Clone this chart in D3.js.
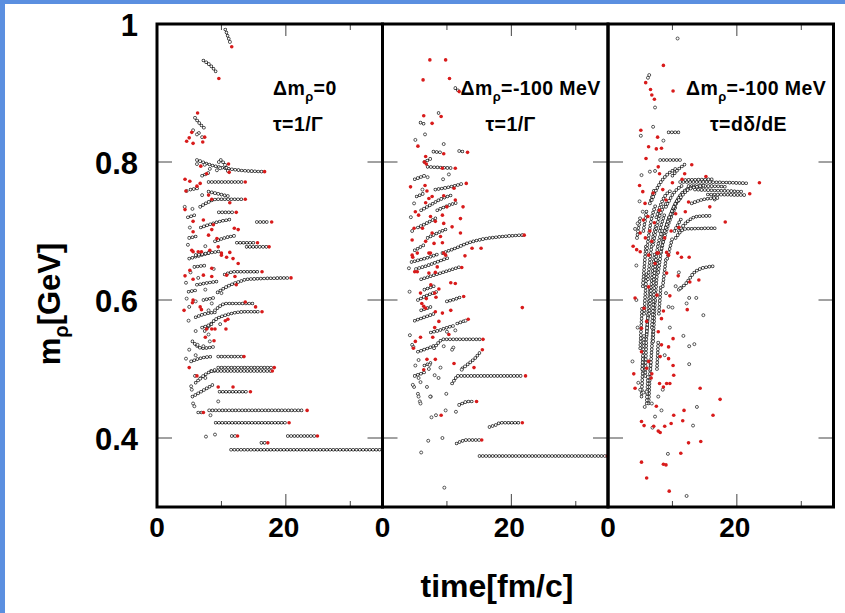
<!DOCTYPE html>
<html>
<head>
<meta charset="utf-8">
<title>rho mass vs time</title>
<script src="https://cdnjs.cloudflare.com/ajax/libs/d3/7.8.5/d3.min.js"></script>
<style>
body { margin: 0; background: #fff; }
svg { display: block; }
text { font-family: "Liberation Sans", Arial, Helvetica, sans-serif; font-weight: bold; fill: #000; }
.ring-out { fill: none; stroke: #222; stroke-width: 3.6; stroke-linecap: round; stroke-dasharray: 0 3.3; }
.ring-in { fill: none; stroke: #fff; stroke-width: 2.1; stroke-linecap: round; stroke-dasharray: 0 3.3; }
.ring { fill: #fff; stroke: #222; stroke-width: 0.75; }
.red { fill: #d81b1b; }
.tick { stroke: #444; stroke-width: 1; }
.frame { fill: none; stroke: #000; stroke-width: 3; }
.note { font-size: 19.5px; letter-spacing: 0.4px; }
</style>
</head>
<body>
<div class="target"></div>
<script>
// each track: [time, mass] nodes of one rho meson, drawn as a row of open circles
var tracks1 = [
  [[11.5,.383],[35.2,.383]], [[16.2,.393],[17.0,.393]], [[20.3,.403],[24.6,.403]], [[11.6,.403],[12.2,.403]],
  [[9.1,.422],[20.2,.422]], [[8.1,.440],[22.9,.440]], [[6.4,.437],[7.0,.437]], [[9.7,.467],[14.2,.467]],
  [[5.5,.460],[7.0,.468],[9.0,.479]], [[9.5,.502],[17.9,.502]], [[8.4,.497],[17.7,.497]],
  [[6.0,.480],[7.5,.492],[9.4,.500]], [[9.5,.518],[13.2,.518]], [[5.3,.511],[6.5,.515],[8.6,.518]],
  [[5.5,.540],[7.0,.530],[8.7,.532]], [[7.4,.555],[9.0,.571],[11.0,.579],[13.7,.583],[16.0,.583]],
  [[9.0,.585],[10.8,.595],[15.0,.595]], [[9.4,.611],[11.0,.620],[12.9,.627],[14.0,.630],[20.5,.632]],
  [[10.5,.637],[12.1,.641],[16.0,.641]], [[5.0,.660],[6.5,.664],[8.0,.668]], [[5.8,.648],[7.5,.650]],
  [[6.2,.622],[8.0,.625],[9.5,.627]], [[4.9,.612],[6.0,.614]], [[7.2,.600],[8.8,.603]],
  [[6.0,.575],[7.5,.580],[9.0,.582]], [[7.0,.560],[8.5,.565]], [[10.6,.992],[11.4,.972]],
  [[7.2,.947],[8.5,.938],[9.3,.929]], [[5.9,.864],[6.7,.855],[7.6,.847]],
  [[6.2,.803],[9.0,.794],[12.0,.789],[16.4,.786]], [[9.9,.803],[10.6,.795],[11.0,.787]],
  [[8.0,.771],[13.4,.771]], [[6.7,.735],[8.0,.742],[9.3,.746],[13.4,.746]], [[9.6,.727],[12.0,.727]],
  [[15.5,.713],[17.4,.713]], [[12.4,.683],[15.3,.683]], [[13.9,.677],[17.1,.677]], [[8.0,.757],[11.3,.750]],
  [[6.8,.705],[9.0,.712],[11.5,.717]], [[9.0,.685],[10.5,.690],[12.0,.693]], [[6.0,.665],[8.0,.668],[10.0,.671]],
  [[5.0,.690],[6.5,.693]], [[5.2,.760],[6.5,.762]], [[4.8,.720],[6.2,.724]], [[7.0,.780],[8.2,.785]]
];
var rings1 = [
  [7.6,.402],[9.0,.405],[9.5,.453],[5.3,.475],[5.4,.470],[5.6,.450],[5.8,.446],[8.3,.433],[6.7,.486],[7.5,.487],
  [5.9,.490],[6.3,.535],[7.2,.533],[8.2,.540],[4.6,.602],[8.0,.585],[6.5,.842],[7.0,.836],[5.6,.846],[6.2,.840],
  [9.6,.800],[9.8,.791],[6.2,.797],[7.4,.796],[8.2,.790],[9.3,.788],[4.6,.758],[7.0,.752],[4.3,.735],[5.5,.732],
  [5.1,.705],[4.8,.680],[7.5,.678],[5.2,.640],[6.4,.632],[8.8,.645],[4.5,.625],[7.5,.615],[10.0,.610],[5.0,.590],
  [6.0,.598],[8.5,.595],[4.9,.570],[6.0,.555],[8.0,.550],[9.8,.565],[5.0,.528],[6.0,.520],[4.5,.515]
];
var reds1 = [
  [17.2,.393],[24.9,.403],[12.5,.403],[20.5,.422],[23.3,.440],[7.2,.437],[14.5,.467],[11.8,.474],[9.5,.474],
  [18.2,.502],[17.9,.497],[6.2,.490],[5.0,.502],[13.5,.518],[8.85,.541],[7.5,.546],[7.7,.558],[9.0,.558],
  [8.5,.558],[10.7,.558],[16.3,.583],[10.6,.570],[11.0,.572],[15.3,.590],[13.7,.597],[4.2,.585],[5.6,.600],
  [5.5,.596],[6.7,.590],[6.9,.586],[20.8,.632],[16.3,.641],[5.1,.643],[4.35,.635],[5.6,.630],[7.2,.636],
  [8.5,.634],[10.8,.636],[12.1,.634],[12.3,.622],[12.6,.653],[11.8,.660],[11.3,.669],[10.0,.665],[6.9,.670],
  [5.6,.670],[8.5,.646],[11.6,.967],[9.6,.921],[6.3,.871],[5.4,.843],[5.0,.835],[4.6,.830],[5.6,.827],
  [7.1,.829],[7.4,.836],[16.7,.786],[11.2,.785],[13.7,.771],[4.35,.775],[5.1,.772],[6.7,.769],[7.7,.783],
  [6.8,.794],[11.1,.797],[13.7,.746],[12.3,.727],[17.8,.713],[15.6,.683],[17.4,.677],[4.5,.758],[6.2,.765],
  [8.0,.752],[8.5,.746],[11.3,.741],[4.35,.731],[5.6,.714],[7.2,.716],[8.75,.709],[8.5,.702],[5.6,.699],
  [8.0,.694],[9.3,.689],[12.0,.704],[12.6,.702],[5.4,.672],[6.4,.670],[8.2,.672],[9.5,.677],[10.0,.668],[10.8,.662]
];

var tracks2 = [
  [[11.3,.907],[11.7,.904]], [[5.9,.857],[6.5,.855]], [[8.7,.871],[8.9,.868]], [[7.9,.815],[9.0,.814]],
  [[11.9,.816],[12.6,.815]], [[7.0,.793],[11.0,.791]], [[8.2,.760],[10.5,.764],[12.6,.769]],
  [[9.3,.668],[11.3,.675],[13.4,.683],[15.5,.688],[18.6,.692],[21.7,.694]],
  [[6.0,.730],[7.5,.738],[9.0,.746],[10.8,.752]], [[5.5,.705],[7.0,.712],[8.5,.720]],
  [[7.0,.690],[8.5,.697],[10.0,.703]], [[5.0,.672],[6.5,.680]], [[8.5,.730],[10.5,.738],[11.6,.741]],
  [[4.5,.655],[6.5,.660],[8.5,.666]], [[5.2,.645],[7.0,.650],[9.0,.657],[10.5,.662]],
  [[6.0,.630],[8.0,.636],[10.0,.642],[12.0,.648]], [[6.5,.615],[8.0,.620]], [[5.5,.600],[7.0,.607],[8.5,.612]],
  [[6.0,.585],[7.5,.590]], [[5.0,.570],[6.5,.575],[8.0,.580]], [[7.5,.553],[8.8,.556],[10.0,.560],[11.2,.563]],
  [[5.5,.525],[7.0,.530],[8.3,.535]], [[6.5,.505],[7.8,.510]], [[5.0,.490],[6.5,.495]],
  [[10.0,.598],[11.5,.602],[12.3,.605]], [[11.6,.566],[12.5,.569],[13.0,.571]], [[8.0,.530],[9.5,.543],[15.3,.543]],
  [[12.4,.501],[13.4,.508],[14.4,.516],[15.2,.525]], [[10.8,.479],[11.3,.486],[11.6,.490],[21.9,.490]],
  [[11.9,.448],[12.6,.451],[13.3,.453],[14.3,.453]], [[16.6,.416],[17.6,.419],[18.3,.422],[21.4,.422]],
  [[11.5,.392],[12.2,.395],[13.0,.397],[15.1,.397]], [[15.05,.374],[34.6,.374]],
  [[5.0,.775],[6.5,.780]], [[6.5,.800],[7.5,.805]], [[5.3,.750],[6.3,.754]]
];
var rings2 = [
  [5.1,.832],[7.1,.396],[9.3,.400],[6.0,.379],[9.6,.328],[7.6,.430],[8.3,.433],[9.8,.440],[11.4,.438],[5.5,.464],
  [5.6,.460],[5.8,.453],[5.9,.450],[7.5,.460],[9.9,.464],[12.3,.499],[4.1,.646],[5.6,.513],[5.1,.505],[5.6,.487],
  [5.9,.481],[6.9,.474],[8.7,.487],[7.4,.460],[9.0,.502],[7.2,.500],[7.3,.506],[8.1,.491],[4.9,.474],[4.7,.477],
  [4.25,.549],[4.6,.535],[4.8,.532],[10.0,.554],[11.3,.556],[12.9,.570],[9.5,.533],[11.0,.531],[10.8,.528],
  [4.4,.720],[4.9,.740],[6.2,.760],[7.0,.778],[9.4,.775],[6.6,.840],[9.5,.826],[10.3,.782],[4.6,.700],[4.2,.612]
];
var reds2 = [
  [7.35,.948],[9.8,.948],[6.3,.919],[10.4,.921],[11.9,.902],[6.4,.867],[7.7,.856],[9.1,.866],[5.5,.823],
  [9.5,.812],[13.2,.814],[6.7,.808],[6.5,.800],[6.8,.797],[11.3,.791],[9.3,.791],[4.35,.764],[6.6,.766],
  [13.0,.769],[11.1,.762],[6.9,.758],[12.5,.735],[10.0,.735],[12.1,.718],[9.3,.723],[7.7,.750],[22.0,.694],
  [13.9,.675],[15.3,.675],[12.6,.605],[21.7,.589],[13.3,.572],[15.6,.543],[15.5,.528],[14.2,.502],[22.2,.490],
  [14.6,.453],[21.7,.422],[15.4,.397],[34.9,.374],[9.1,.433],[11.1,.508],[4.7,.662],[7.2,.668],[9.8,.665],
  [12.8,.664],[5.0,.641],[5.4,.641],[7.2,.639],[8.2,.640],[8.5,.648],[12.3,.647],[10.6,.625],[11.3,.624],
  [7.5,.622],[8.75,.616],[8.1,.610],[8.3,.604],[5.9,.610],[6.8,.602],[6.1,.595],[6.4,.591],[6.7,.588],
  [9.3,.581],[10.6,.585],[8.2,.583],[8.75,.569],[8.1,.560],[10.3,.550],[5.9,.546],[5.1,.540],[4.8,.530],
  [7.8,.546],[8.2,.514],[6.9,.514],[6.4,.499],[7.2,.747],[6.7,.741],[9.5,.751],[11.3,.745],[5.1,.728],
  [5.6,.723],[7.45,.721],[8.2,.714],[9.5,.711],[6.2,.704],[4.9,.704],[7.7,.697],[9.0,.692],[10.8,.706],
  [12.1,.697],[4.6,.687],[6.7,.685],[8.0,.682],[9.3,.683],[4.6,.665],[5.4,.668],[7.45,.668],[9.5,.668]
];

var tracks3 = [
  [[11.2,.771],[14.0,.771],[21.8,.769]], [[13.5,.760],[21.0,.757]], [[15.5,.753],[21.5,.752]],
  [[12.5,.765],[16.0,.765],[18.5,.764]], [[12.0,.774],[16.5,.775]], [[9.4,.843],[11.0,.843]],
  [[8.1,.803],[11.4,.803]], [[16.4,.750],[16.7,.742]], [[11.0,.700],[12.5,.715],[13.8,.721],[15.8,.722]],
  [[10.5,.690],[12.0,.703],[16.6,.704]], [[11.0,.615],[12.2,.625],[13.3,.639],[14.3,.645],[15.5,.648],[16.7,.649]],
  [[5.2,.46],[5.5,.52]], [[6.3,.45],[6.6,.51]], [[5.8,.49],[6.0,.55],[6.3,.58]], [[6.6,.50],[7.0,.56]],
  [[5.0,.53],[5.3,.59]], [[6.0,.55],[6.5,.62]], [[7.0,.54],[7.3,.60]], [[5.6,.58],[6.0,.64]],
  [[6.4,.58],[6.9,.64],[7.3,.67]], [[7.3,.60],[7.8,.66]], [[5.4,.62],[5.9,.68]], [[6.2,.63],[6.8,.68],[7.5,.71]],
  [[7.0,.62],[7.6,.67],[8.4,.70]], [[7.8,.64],[8.6,.69],[9.5,.72]], [[6.0,.67],[6.6,.71],[7.5,.74]],
  [[7.0,.68],[7.8,.715],[9.0,.74]], [[8.2,.67],[9.2,.705],[10.5,.735]], [[8.8,.70],[10.0,.73],[11.5,.75]],
  [[7.5,.72],[8.5,.745],[10.0,.76]], [[9.5,.72],[10.8,.745],[12.5,.762]], [[10.2,.735],[11.5,.755],[13.5,.765]],
  [[9.0,.735],[10.2,.755],[11.8,.767]], [[6.5,.74],[7.2,.76]], [[11.0,.745],[12.5,.76],[15.0,.766]],
  [[8.0,.70],[8.8,.725]], [[5.5,.70],[6.0,.73]], [[6.8,.56],[7.2,.62]], [[5.3,.50],[5.6,.55]],
  [[7.9,.58],[8.2,.62]], [[8.5,.62],[9.0,.66]], [[6.0,.45],[6.2,.49]], [[7.6,.50],[7.8,.54]],
  [[9.2,.66],[10.0,.69]], [[10.3,.70],[11.5,.72]], [[13.0,.740],[14.5,.745],[17.0,.748]],
  [[6.8,.745],[7.8,.765],[9.0,.780],[10.5,.790]], [[10.0,.780],[11.0,.790],[12.0,.797]], [[4.5,.690],[5.0,.720]]
];
var rings3 = [
  [10.8,.979],[6.4,.926],[6.2,.922],[7.3,.879],[5.1,.838],[7.0,.851],[8.6,.831],[5.2,.781],[6.5,.786],[7.3,.787],
  [4.2,.703],[4.6,.711],[5.4,.728],[4.9,.743],[11.2,.617],[12.6,.603],[13.7,.603],[12.2,.595],[14.8,.578],
  [9.4,.590],[10.0,.589],[11.7,.548],[12.6,.533],[13.4,.536],[12.6,.507],[3.8,.511],[5.0,.470],[5.5,.466],
  [6.0,.467],[13.8,.445],[13.2,.418],[6.9,.415],[5.7,.445],[6.8,.450],[8.3,.440],[7.3,.431],[9.3,.377],
  [12.2,.316],[4.4,.600],[4.6,.560],[4.4,.650],[9.0,.610],[9.6,.560],[8.8,.520],[4.7,.480],[7.8,.460],
  [8.5,.470],[10.5,.620],[11.0,.640]
];
var reds3 = [
  [8.6,.940],[5.85,.915],[6.6,.905],[6.8,.897],[7.2,.891],[10.1,.903],[5.1,.846],[7.7,.836],[6.3,.822],
  [7.5,.819],[8.3,.820],[5.9,.805],[13.0,.796],[7.8,.793],[8.0,.783],[11.9,.783],[15.2,.779],[23.5,.770],
  [22.0,.754],[18.2,.713],[15.8,.735],[12.5,.742],[4.9,.766],[5.4,.757],[5.75,.740],[6.2,.721],[5.5,.716],
  [5.0,.697],[3.9,.678],[4.45,.673],[6.3,.665],[7.6,.668],[9.4,.665],[11.4,.662],[12.6,.662],[14.1,.629],
  [12.7,.626],[4.2,.603],[9.6,.606],[12.3,.586],[10.1,.544],[9.4,.532],[9.4,.515],[10.1,.505],[10.2,.491],
  [4.0,.493],[4.2,.472],[14.3,.472],[17.4,.456],[16.3,.433],[11.8,.440],[11.6,.425],[9.8,.421],[8.8,.417],
  [7.1,.417],[5.2,.424],[5.6,.418],[7.8,.410],[8.1,.408],[10.2,.433],[7.5,.446],[12.5,.393],[14.4,.395],
  [11.3,.378],[5.2,.365],[8.6,.362],[9.0,.361],[6.0,.342],[9.5,.323],[5.0,.670],[7.8,.668],[9.1,.669],
  [10.8,.668],[7.3,.653],[9.1,.639],[10.9,.635],[6.3,.619],[7.6,.607],[5.6,.588],[8.6,.584],[8.3,.573],
  [6.0,.569],[5.2,.559],[7.8,.554],[8.3,.535],[5.2,.525],[8.1,.518],[6.3,.511],[6.0,.501],[6.8,.493],
  [6.7,.487],[8.0,.479],[8.6,.474],[9.1,.479],[9.6,.479],[6.5,.700],[7.2,.712],[8.0,.730],[9.0,.745],
  [10.5,.725],[11.0,.705],[6.8,.685],[8.8,.690],[9.8,.700],[7.0,.755],[8.5,.760],[10.0,.770],[11.5,.775],
  [5.8,.690],[12.0,.728]
];

var xTickLabels = [0, 20];
var xMinorTicks = [10, 30];
var xMajorTicks = [20];
var yTicks = [0.4, 0.6, 0.8];
var yTickLabels = [0.4, 0.6, 0.8, 1];
var noteMass = ["=0", "=-100 MeV", "=-100 MeV"];
var noteTau = ["\u03c4=1/\u0393", "\u03c4=1/\u0393", "\u03c4=d\u03b4/dE"];

drawChart('.target');

function drawChart(target) {
  'use strict';

  var width = 845, height = 613,
    margin = {top: 24, left: 157},
    panelW = 225.5, plotH = 483;

  var x = d3.scaleLinear().domain([0, 35]).range([0, panelW]);
  var y = d3.scaleLinear().domain([0.3, 1.0]).range([plotH, 0]);
  var line = d3.line()
    .x(function(d) { return x(d[0]); })
    .y(function(d) { return y(d[1]); })
    .curve(d3.curveMonotoneX);

  var svg = d3.select(target).append('svg')
    .attr('width', width)
    .attr('height', height);

  // blue slide border
  svg.append('rect').attr('x', 0).attr('y', 0).attr('width', 5).attr('height', height).attr('fill', '#5b8fe0');
  svg.append('rect').attr('x', 0).attr('y', 0).attr('width', width).attr('height', 4).attr('fill', '#5b8fe0');

  var panels = [
    {tracks: tracks1, rings: rings1, reds: reds1},
    {tracks: tracks2, rings: rings2, reds: reds2},
    {tracks: tracks3, rings: rings3, reds: reds3}
  ];

  panels.forEach(function(p, i) {
    var g = svg.append('g')
      .attr('transform', 'translate(' + (margin.left + i * panelW) + ',' + margin.top + ')');

    g.append('clipPath').attr('id', 'clip' + i)
      .append('rect').attr('width', panelW).attr('height', plotH);

    var data = g.append('g').attr('clip-path', 'url(#clip' + i + ')');

    p.tracks.forEach(function(t) {
      data.append('path').attr('class', 'ring-out').attr('d', line(t));
      data.append('path').attr('class', 'ring-in').attr('d', line(t));
    });

    data.selectAll('circle.ring')
      .data(p.rings)
      .enter().append('circle')
        .attr('class', 'ring')
        .attr('cx', function(d) { return x(d[0]); })
        .attr('cy', function(d) { return y(d[1]); })
        .attr('r', 1.5);

    data.selectAll('circle.red')
      .data(p.reds)
      .enter().append('circle')
        .attr('class', 'red')
        .attr('cx', function(d) { return x(d[0]); })
        .attr('cy', function(d) { return y(d[1]); })
        .attr('r', 1.8);

    // ticks
    xMinorTicks.forEach(function(v) {
      g.append('line').attr('class', 'tick').attr('x1', x(v)).attr('x2', x(v)).attr('y1', plotH).attr('y2', plotH - 6);
      g.append('line').attr('class', 'tick').attr('x1', x(v)).attr('x2', x(v)).attr('y1', 0).attr('y2', 6);
    });
    xMajorTicks.forEach(function(v) {
      g.append('line').attr('class', 'tick').attr('x1', x(v)).attr('x2', x(v)).attr('y1', plotH).attr('y2', plotH - 13);
      g.append('line').attr('class', 'tick').attr('x1', x(v)).attr('x2', x(v)).attr('y1', 0).attr('y2', 12);
    });
    yTicks.forEach(function(v) {
      g.append('line').attr('class', 'tick').attr('x1', 0).attr('x2', 15).attr('y1', y(v)).attr('y2', y(v));
      g.append('line').attr('class', 'tick').attr('x1', panelW - 15).attr('x2', panelW).attr('y1', y(v)).attr('y2', y(v));
    });

    xTickLabels.forEach(function(v) {
      g.append('text')
        .attr('x', x(v) + (v === 0 ? 0 : -2))
        .attr('y', plotH + 30)
        .attr('text-anchor', 'middle')
        .style('font-size', '28px')
        .text(v);
    });

    g.append('rect').attr('class', 'frame').attr('width', panelW).attr('height', plotH);

    // annotations
    var n1 = g.append('text')
      .attr('class', 'note')
      .attr('x', i === 0 ? 116 : 78)
      .attr('y', 71);
    n1.append('tspan').text('\u0394m');
    n1.append('tspan').attr('dy', 6).style('font-size', '13px').text('\u03c1');
    n1.append('tspan').attr('dy', -6).text(noteMass[i]);

    g.append('text')
      .attr('class', 'note')
      .attr('x', i === 0 ? 116 : (i === 1 ? 103 : 102))
      .attr('y', 107)
      .text(noteTau[i]);
  });

  // y tick labels
  yTickLabels.forEach(function(v) {
    svg.append('text')
      .attr('x', 138)
      .attr('y', margin.top + y(v) + 12)
      .attr('text-anchor', 'end')
      .style('font-size', '31px')
      .text(v);
  });

  // axis titles
  svg.append('text')
    .attr('x', 497)
    .attr('y', 597)
    .attr('text-anchor', 'middle')
    .style('font-size', '32px')
    .text('time[fm/c]');

  var yl = svg.append('text')
    .attr('transform', 'translate(60,304) rotate(-90)')
    .attr('text-anchor', 'middle')
    .style('font-size', '31px');
  yl.append('tspan').text('m');
  yl.append('tspan').attr('dy', 8).style('font-size', '20px').text('\u03c1');
  yl.append('tspan').attr('dy', -8).text('[GeV]');
}
</script>
</body>
</html>
